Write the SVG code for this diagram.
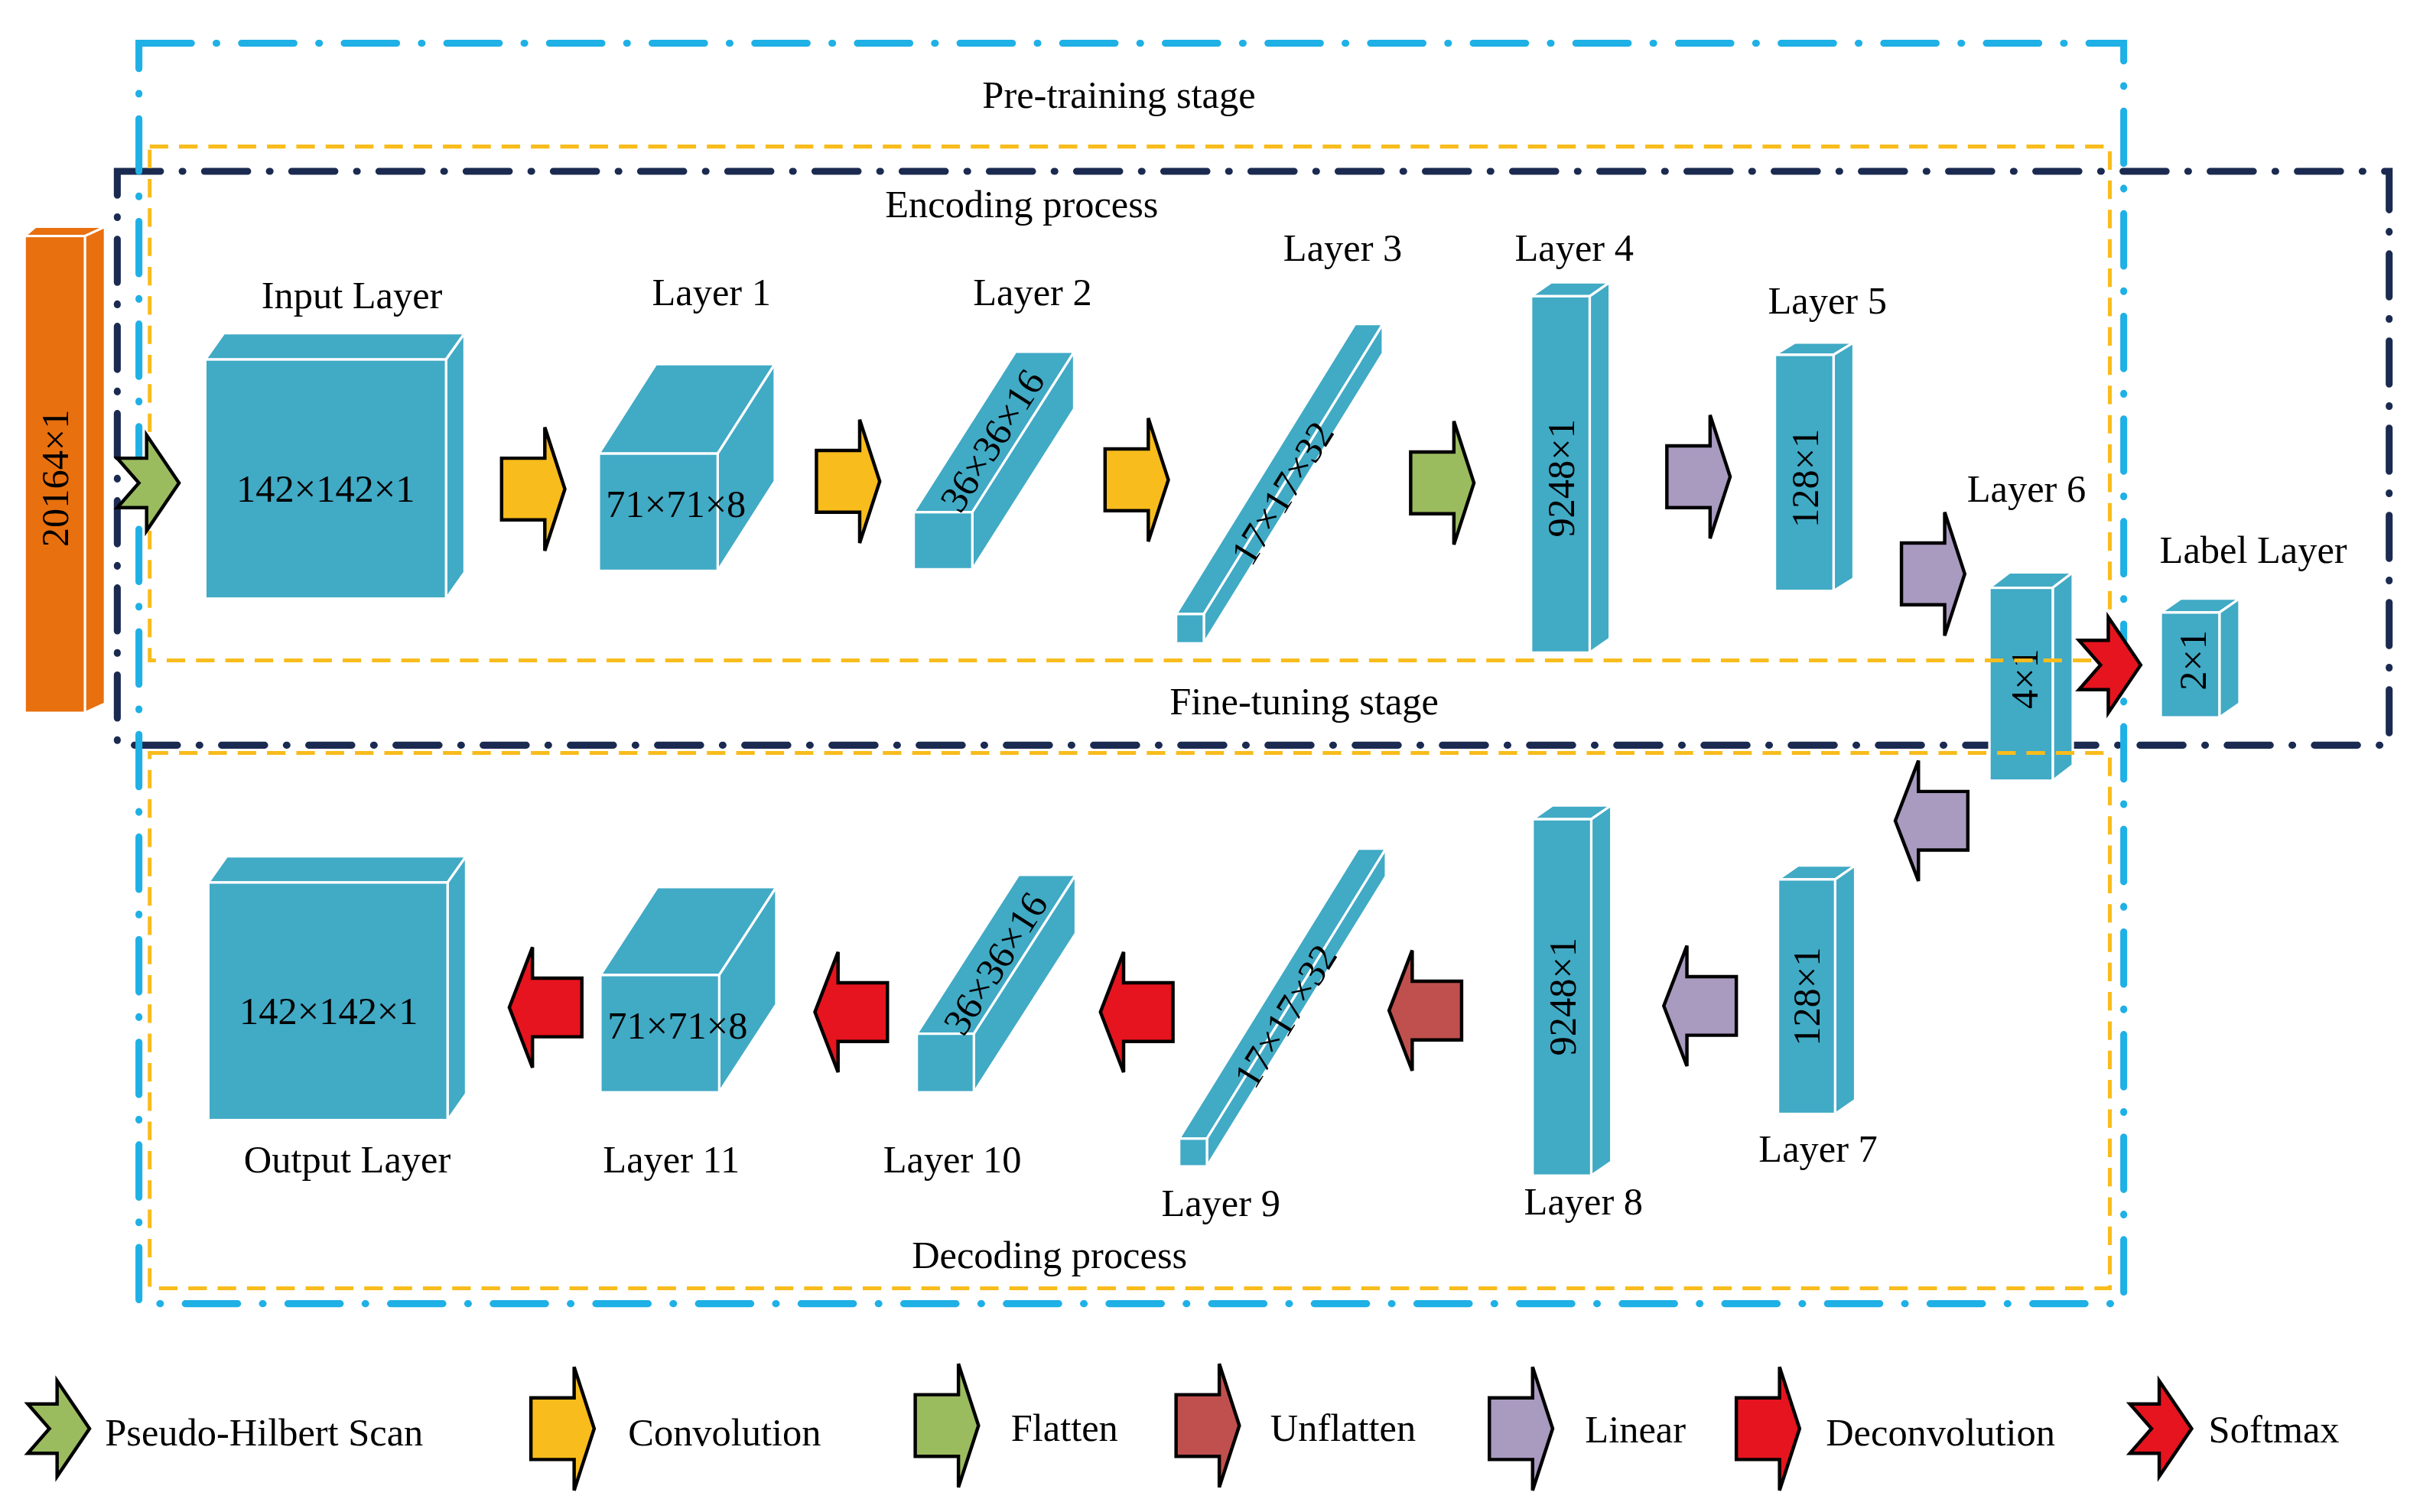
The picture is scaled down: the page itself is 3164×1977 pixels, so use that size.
<svg xmlns="http://www.w3.org/2000/svg" width="3164" height="1977" viewBox="0 0 3164 1977">
<style>
.c{fill:#41aac5;stroke:#fff;stroke-width:1.6;stroke-linejoin:miter}
.t{font-family:"Liberation Serif","Times New Roman",serif;font-size:25px;fill:#000}
.m{text-anchor:middle}
.blue{fill:none;stroke:#1fb0e6;stroke-width:4.5;stroke-dasharray:34 16 0.5 16;stroke-linecap:round}
.navy{fill:none;stroke:#1b2a50;stroke-width:4.5;stroke-dasharray:28 14 0.5 14;stroke-linecap:round}
.yel{fill:none;stroke:#f8bc1c;stroke-width:2.5;stroke-dasharray:12 7}
.ar{stroke:#000;stroke-width:2.2;stroke-linejoin:miter}
.yl{fill:#f8bc1c}.gr{fill:#9bbb5f}.pu{fill:#a99ac0}.rd{fill:#e6141e}.br{fill:#c0504d}
</style>
<defs>
<path id="ra" d="M0,-20 H28 V-40 L41,0 L28,40 V20 H0 Z"/>
<path id="la" d="M0,-19 H-32 V-39 L-47,0 L-32,39 V19 H0 Z"/>
<path id="ch" d="M0,-16 H19 V-31 L40,0 L19,31 V16 H0 L14,0 Z"/>
</defs>
<g transform="scale(2.0179,2.0173)">
<g id="frames">
<rect class="navy" x="76" y="111" width="1472" height="372"/>
</g>
<g id="orange">
<polygon points="16,153 23,147 68,147 55,153" fill="#e8700f" stroke="#fff" stroke-width="1.5"/>
<polygon points="55,153 68,147 68,456 55,462" fill="#e8700f" stroke="#fff" stroke-width="1.5"/>
<rect x="16" y="153" width="39" height="309" fill="#e8700f" stroke="#fff" stroke-width="1.5"/>
<text class="t m" transform="translate(44,310) rotate(-90)" font-size="26">20164×1</text>
</g>
<g id="input"><polygon class="c" points="133,233 145,216 301,216 289,233"/><polygon class="c" points="289,233 301,216 301,371 289,388"/><rect class="c" x="133" y="233" width="156" height="155"/>
<text class="t m" x="211" y="325">142×142×1</text><text class="t m" x="228" y="200">Input Layer</text></g>
<g id="layer1"><polygon class="c" points="388,294 425,236 502,236 465,294"/><polygon class="c" points="465,294 502,236 502,312 465,370"/><rect class="c" x="388" y="294" width="77" height="76"/>
<text class="t m" x="438" y="335">71×71×8</text><text class="t m" x="461" y="198">Layer 1</text></g>
<g id="layer2"><polygon class="c" points="592,332 658,228 696,228 630,332"/><polygon class="c" points="630,332 696,228 696,265 630,369"/><rect class="c" x="592" y="332" width="38" height="37"/>
<text class="t m" transform="translate(650,290) rotate(-57.6)">36×36×16</text><text class="t m" x="669" y="198">Layer 2</text></g>
<g id="layer3"><polygon class="c" points="762,398 878,210 896,210 780,398"/><polygon class="c" points="780,398 896,210 896,229 780,417"/><rect class="c" x="762" y="398" width="18" height="19"/>
<text class="t m" transform="translate(838,324) rotate(-58.3)">17×17×32</text><text class="t m" x="870" y="169">Layer 3</text></g>
<g id="layer4"><polygon class="c" points="992,192 1005,183 1043,183 1030,192"/><polygon class="c" points="1030,192 1043,183 1043,414 1030,423"/><rect class="c" x="992" y="192" width="38" height="231"/>
<text class="t m" transform="translate(1020,310) rotate(-90)">9248×1</text><text class="t m" x="1020" y="169">Layer 4</text></g>
<g id="layer5"><polygon class="c" points="1150,230 1163,222 1201,222 1188,230"/><polygon class="c" points="1188,230 1201,222 1201,375 1188,383"/><rect class="c" x="1150" y="230" width="38" height="153"/>
<text class="t m" transform="translate(1178,310) rotate(-90)">128×1</text><text class="t m" x="1184" y="203">Layer 5</text></g>
<g id="layer6"><polygon class="c" points="1289,381 1302,371 1343,371 1330,381"/><polygon class="c" points="1330,381 1343,371 1343,496 1330,506"/><rect class="c" x="1289" y="381" width="41" height="125"/>
<text class="t m" transform="translate(1320,440) rotate(-90)">4×1</text><text class="t m" x="1313" y="325">Layer 6</text></g>
<g id="label"><polygon class="c" points="1400,397 1413,388 1451,388 1438,397"/><polygon class="c" points="1438,397 1451,388 1451,456 1438,465"/><rect class="c" x="1400" y="397" width="38" height="68"/>
<text class="t m" transform="translate(1429,428) rotate(-90)">2×1</text><text class="t m" x="1460" y="365">Label Layer</text></g>
<g id="output"><polygon class="c" points="135,572 147,555 302,555 290,572"/><polygon class="c" points="290,572 302,555 302,709 290,726"/><rect class="c" x="135" y="572" width="155" height="154"/>
<text class="t m" x="213" y="664">142×142×1</text><text class="t m" x="225" y="760">Output Layer</text></g>
<g id="layer11"><polygon class="c" points="389,632 426,575 503,575 466,632"/><polygon class="c" points="466,632 503,575 503,651 466,708"/><rect class="c" x="389" y="632" width="77" height="76"/>
<text class="t m" x="439" y="673">71×71×8</text><text class="t m" x="435" y="760">Layer 11</text></g>
<g id="layer10"><polygon class="c" points="594,670 660,567 697,567 631,670"/><polygon class="c" points="631,670 697,567 697,605 631,708"/><rect class="c" x="594" y="670" width="37" height="38"/>
<text class="t m" transform="translate(652,629) rotate(-57.6)">36×36×16</text><text class="t m" x="617" y="760">Layer 10</text></g>
<g id="layer9"><polygon class="c" points="764,738 880,550 898,550 782,738"/><polygon class="c" points="782,738 898,550 898,568 782,756"/><rect class="c" x="764" y="738" width="18" height="18"/>
<text class="t m" transform="translate(840,663) rotate(-58.3)">17×17×32</text><text class="t m" x="791" y="788">Layer 9</text></g>
<g id="layer8"><polygon class="c" points="993,531 1006,522 1044,522 1031,531"/><polygon class="c" points="1031,531 1044,522 1044,753 1031,762"/><rect class="c" x="993" y="531" width="38" height="231"/>
<text class="t m" transform="translate(1021,646) rotate(-90)">9248×1</text><text class="t m" x="1026" y="787">Layer 8</text></g>
<g id="layer7"><polygon class="c" points="1152,570 1165,561 1202,561 1189,570"/><polygon class="c" points="1189,570 1202,561 1202,713 1189,722"/><rect class="c" x="1152" y="570" width="37" height="152"/>
<text class="t m" transform="translate(1179,646) rotate(-90)">128×1</text><text class="t m" x="1178" y="753">Layer 7</text></g>
<g id="frames2">
<rect class="yel" x="97" y="95" width="1270" height="333"/>
<rect class="yel" x="97" y="488" width="1270" height="347"/>
<rect class="blue" x="90" y="28" width="1286" height="817"/>
</g>
<g id="titles">
<text class="t m" x="725" y="70" font-size="26">Pre-training stage</text>
<text class="t m" x="662" y="141" font-size="26">Encoding process</text>
<text class="t m" x="845" y="463" font-size="26">Fine-tuning stage</text>
<text class="t m" x="680" y="822" font-size="26">Decoding process</text>
</g>
<g id="connectors">
<use href="#ch" class="ar gr" x="76" y="313"/>
<use href="#ra" class="ar yl" x="325" y="317"/>
<use href="#ra" class="ar yl" x="529" y="312"/>
<use href="#ra" class="ar yl" x="716" y="311"/>
<use href="#ra" class="ar gr" x="914" y="313"/>
<use href="#ra" class="ar pu" x="1080" y="309"/>
<use href="#ra" class="ar pu" x="1232" y="372"/>
<use href="#ch" class="ar rd" x="1347" y="431"/>
<use href="#la" class="ar pu" x="1275" y="532"/>
<use href="#la" class="ar pu" x="1125" y="652"/>
<use href="#la" class="ar br" x="947" y="655"/>
<use href="#la" class="ar rd" x="760" y="656"/>
<use href="#la" class="ar rd" x="575" y="656"/>
<use href="#la" class="ar rd" x="377" y="653"/>
</g>
<g id="legend">
<use href="#ch" class="ar gr" transform="translate(18,926)"/>
<use href="#ra" class="ar yl" transform="translate(344,926) scale(1,1)"/>
<use href="#ra" class="ar gr" transform="translate(593,924)"/>
<use href="#ra" class="ar br" transform="translate(762,924)"/>
<use href="#ra" class="ar pu" transform="translate(965,926)"/>
<use href="#ra" class="ar rd" transform="translate(1125,926)"/>
<use href="#ch" class="ar rd" transform="translate(1380,926)"/>
<text class="t" x="68" y="937" font-size="26">Pseudo-Hilbert Scan</text>
<text class="t" x="407" y="937" font-size="26">Convolution</text>
<text class="t" x="655" y="934" font-size="26">Flatten</text>
<text class="t" x="823" y="934" font-size="26">Unflatten</text>
<text class="t" x="1027" y="935" font-size="26">Linear</text>
<text class="t" x="1183" y="937" font-size="26">Deconvolution</text>
<text class="t" x="1431" y="935" font-size="26">Softmax</text>
</g>
</g>
</svg>
